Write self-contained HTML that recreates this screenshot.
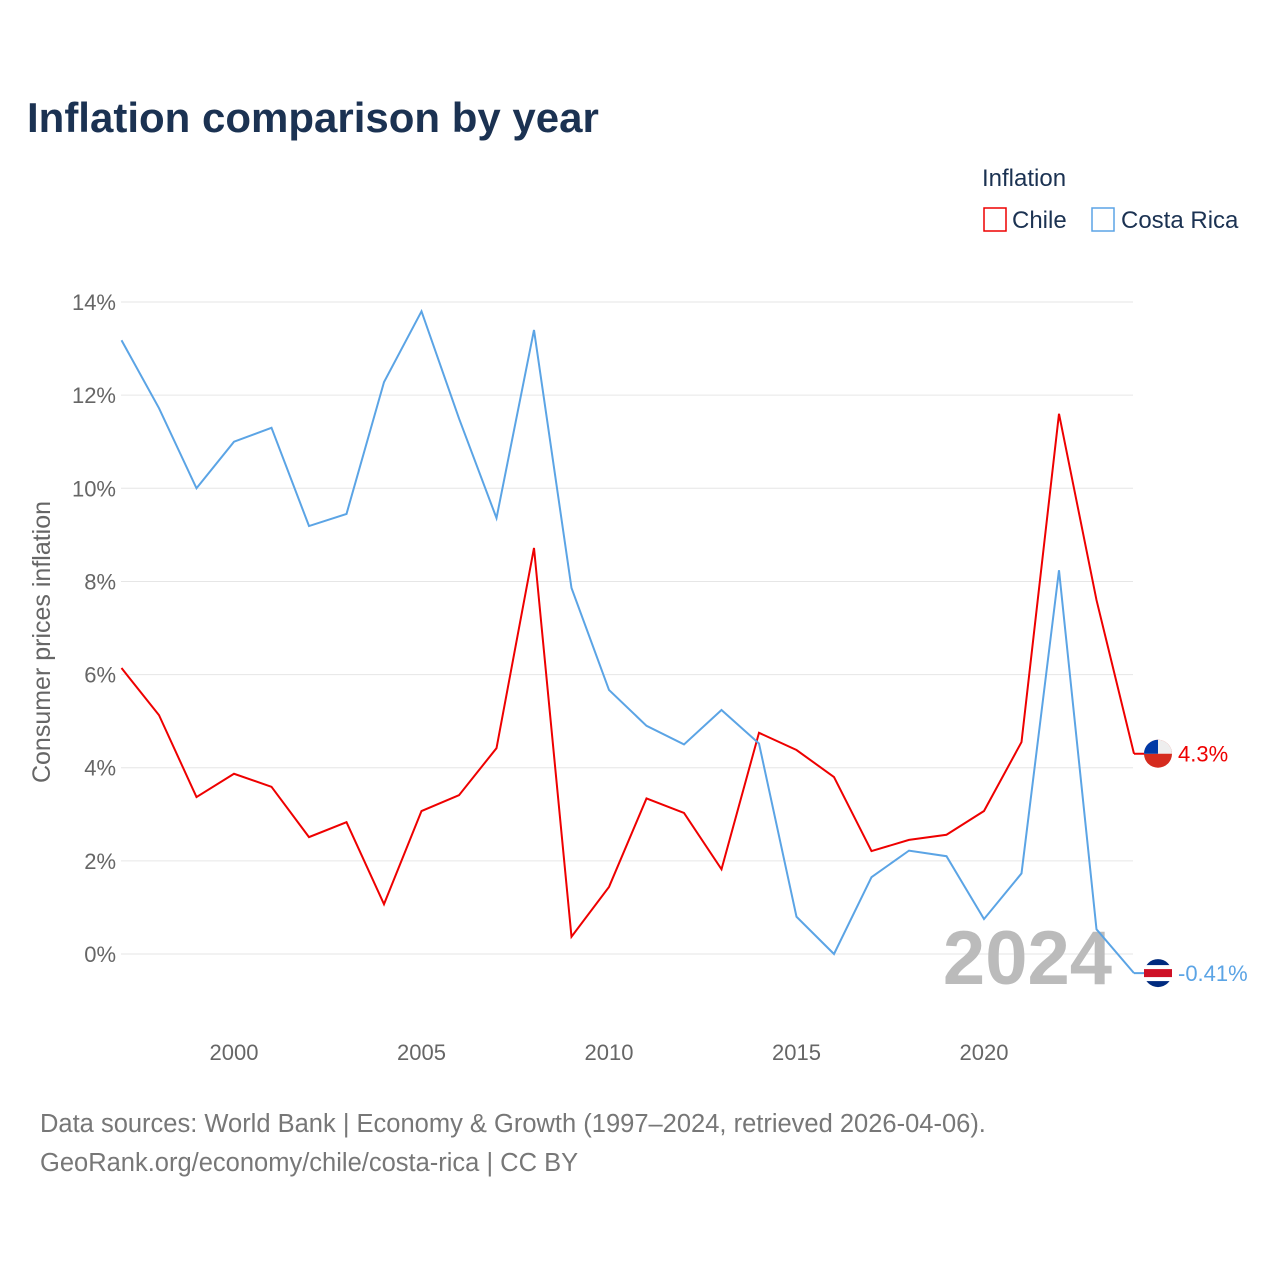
<!DOCTYPE html>
<html><head><meta charset="utf-8"><style>
body{margin:0;background:#fff;width:1280px;height:1280px;overflow:hidden;font-family:"Liberation Sans",sans-serif}
</style></head><body>
<svg width="1280" height="1280" xmlns="http://www.w3.org/2000/svg" font-family="Liberation Sans, sans-serif">
<text x="27" y="132" font-size="42" font-weight="bold" fill="#1b3252">Inflation comparison by year</text>
<text x="982" y="186" font-size="24" fill="#1b3252">Inflation</text>
<g><rect x="984" y="208" width="22" height="23" fill="none" stroke="#ee0000" stroke-width="1.5"/><text x="1012" y="228" font-size="24" fill="#1b3252">Chile</text></g>
<g><rect x="1092" y="208" width="22" height="23" fill="none" stroke="#5ba4e5" stroke-width="1.5"/><text x="1121" y="228" font-size="24" fill="#1b3252">Costa Rica</text></g>
<text transform="translate(50,642) rotate(-90)" text-anchor="middle" font-size="25" fill="#666">Consumer prices inflation</text>
<g id="grid"></g><g id="yt"></g><g id="xt"></g>
<text x="1112" y="984" text-anchor="end" font-size="76" font-weight="bold" fill="#bbb">2024</text>
<g id="series"></g>
<text x="40" y="1132" font-size="25.5" fill="#777">Data sources: World Bank | Economy &amp; Growth (1997–2024, retrieved 2026-04-06).</text>
<text x="40" y="1171" font-size="25.5" fill="#777">GeoRank.org/economy/chile/costa-rica | CC BY</text>
</svg>
<script>
const years=[1997,1998,1999,2000,2001,2002,2003,2004,2005,2006,2007,2008,2009,2010,2011,2012,2013,2014,2015,2016,2017,2018,2019,2020,2021,2022,2023,2024];
const chile=[6.14,5.13,3.37,3.87,3.59,2.51,2.83,1.07,3.07,3.41,4.42,8.72,0.37,1.44,3.34,3.03,1.82,4.75,4.38,3.80,2.21,2.45,2.56,3.07,4.55,11.6,7.6,4.3];
const costaRica=[13.18,11.72,10.0,11.0,11.3,9.19,9.45,12.28,13.8,11.5,9.36,13.4,7.86,5.67,4.9,4.5,5.24,4.52,0.8,0.0,1.65,2.22,2.1,0.75,1.73,8.24,0.53,-0.41];
const yTicks=[0,2,4,6,8,10,12,14];
const xTicks=[2000,2005,2010,2015,2020];
const NS="http://www.w3.org/2000/svg";
const X=y=>121.5+(y-1997)*37.5, Y=v=>954-v*46.57;
function mk(t,a,p){const e=document.createElementNS(NS,t);for(const k in a)e.setAttribute(k,a[k]);p.appendChild(e);return e;}
const g=document.getElementById('grid'),yt=document.getElementById('yt'),xt=document.getElementById('xt'),s=document.getElementById('series');
yTicks.forEach(v=>{const l=mk('line',{x1:121,x2:1133,y1:Y(v),y2:Y(v),stroke:'#e6e6e6','stroke-width':1},g);


const t=mk('text',{x:116,y:Y(v)+8,'text-anchor':'end','font-size':22,fill:'#666'},yt);t.textContent=v+'%';

});
xTicks.forEach(v=>{const t=mk('text',{x:X(v),y:1060,'text-anchor':'middle','font-size':22,fill:'#666'},xt);t.textContent=v;

});
function line(d,c,name){const p=mk('polyline',{points:d.map((v,i)=>X(years[i])+','+Y(v)).join(' '),fill:'none',stroke:c,'stroke-width':2},s);


const lx=X(years[years.length-1]),ly=Y(d[d.length-1]);
mk('line',{x1:lx,x2:lx+24,y1:ly,y2:ly,stroke:c,'stroke-width':2},s);
return [lx+24,ly];}
const [cx,cy]=line(chile,'#ee0000','chile-line');
const [rx,ry]=line(costaRica,'#5ba4e5','costa-rica-line');
const f1=mk('g',{},s);
mk('circle',{cx:cx,cy:cy,r:14,fill:'#d52b1e'},f1);
mk('path',{d:`M${cx-14},${cy} A14,14 0 0 1 ${cx+14},${cy} Z`,fill:'#eee'},f1);
mk('path',{d:`M${cx-14},${cy} A14,14 0 0 1 ${cx},${cy-14} L${cx},${cy} Z`,fill:'#0039a6'},f1);
const t1=mk('text',{x:cx+20,y:cy+8,'font-size':22,fill:'#ee0000'},s);t1.textContent=chile[chile.length-1]+'%';

const f2=mk('g',{},s);
mk('circle',{cx:rx,cy:ry,r:14,fill:'#002b7f'},f2);
mk('rect',{x:rx-14,y:ry-8,width:28,height:16,fill:'#fff'},f2);
mk('rect',{x:rx-14,y:ry-4,width:28,height:8,fill:'#ce1126'},f2);
const t2=mk('text',{x:rx+20,y:ry+8,'font-size':22,fill:'#5ba4e5'},s);t2.textContent=costaRica[costaRica.length-1]+'%';

</script>
</body></html>
